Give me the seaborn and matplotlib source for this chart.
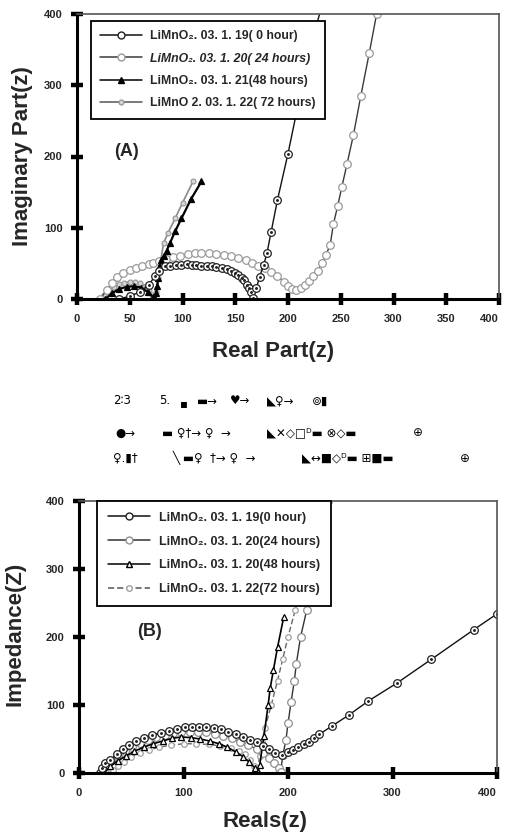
import matplotlib
matplotlib.use("Agg")
import matplotlib.pyplot as plt
import seaborn as sns
import numpy as np
from matplotlib.lines import Line2D

sns.set_theme(style="white")
NARROW = ['Liberation Sans Narrow', 'Liberation Sans', 'DejaVu Sans']
plt.rcParams['font.family'] = NARROW

# ---------------- Panel A data ----------------
a_labels = ["LiMnO\u2082. 03. 1. 19( 0 hour)",
            "LiMnO\u2082. 03. 1. 20( 24 hours)",
            "LiMnO\u2082. 03. 1. 21(48 hours)",
            "LiMnO 2. 03. 1. 22( 72 hours)"]

a0_x = [40, 50, 60, 68, 74, 78, 83, 88, 94, 99, 104, 109, 113, 118, 123, 128, 132, 137, 142, 146,
        150, 153, 156, 158, 161, 163, 165, 167, 170, 173, 177, 180, 184, 190, 200, 212, 224, 232]
a0_y = [0, 4, 10, 20, 32, 40, 46, 47, 48, 48, 49, 48, 48, 47, 46, 46, 45, 44, 42, 40,
        37, 34, 30, 27, 20, 15, 10, 2, 15, 31, 48, 64, 94, 139, 204, 290, 370, 410]

a1_x = [22, 28, 33, 38, 44, 50, 56, 62, 68, 72, 78, 84, 91, 98, 105, 112, 118, 125, 132, 139,
        146, 153, 160, 166, 172, 178, 184, 190, 196, 200, 204, 208, 212, 216, 220, 224, 228,
        232, 236, 240, 243, 247, 251, 256, 262, 269, 277, 284]
a1_y = [0, 12, 22, 31, 36, 41, 44, 47, 49, 50, 53, 56, 59, 61, 63, 64, 64, 64, 63, 62,
        60, 58, 55, 51, 47, 43, 38, 32, 24, 18, 14, 13, 15, 19, 25, 32, 40,
        50, 62, 76, 105, 130, 157, 190, 230, 285, 345, 400]

a2_x = [27, 33, 40, 47, 54, 61, 67, 72, 74, 75, 76, 77, 78, 80, 82, 85, 88, 93, 99, 108, 118]
a2_y = [0, 8, 14, 17, 18, 16, 10, 3, 0, 8, 18, 30, 45, 55, 60, 68, 78, 95, 113, 140, 165]

a3_x = [22, 26, 30, 35, 40, 45, 50, 55, 60, 65, 68, 71, 73, 75, 77, 79, 82, 86, 93, 100, 110]
a3_y = [0, 6, 12, 17, 21, 23, 24, 24, 22, 18, 12, 6, 0, 10, 30, 50, 78, 92, 113, 135, 165]

# ---------------- Panel B data ----------------
b_labels = ["LiMnO\u2082. 03. 1. 19(0 hour)",
            "LiMnO\u2082. 03. 1. 20(24 hours)",
            "LiMnO\u2082. 03. 1. 20(48 hours)",
            "LiMnO\u2082. 03. 1. 22(72 hours)"]

b0_x = [20, 22, 25, 30, 36, 42, 48, 55, 62, 70, 78, 86, 94, 101, 108, 115, 122, 129, 136, 143,
        150, 157, 164, 170, 176, 182, 188, 194, 200, 205, 210, 215, 220, 225, 230, 242, 258, 277,
        304, 337, 378, 400]
b0_y = [0, 8, 14, 19, 28, 35, 41, 47, 52, 56, 59, 62, 65, 67, 68, 68, 67, 66, 64, 61,
        57, 53, 49, 45, 40, 35, 30, 26, 31, 34, 38, 42, 46, 51, 57, 69, 85, 106,
        132, 167, 211, 234]

b1_x = [22, 26, 31, 37, 44, 51, 58, 66, 74, 82, 90, 98, 106, 114, 122, 130, 138, 146, 154, 162,
        170, 176, 182, 187, 191, 193, 195, 198, 200, 203, 206, 208, 212, 218, 224, 232, 238]
b1_y = [0, 10, 18, 25, 32, 38, 44, 49, 53, 56, 59, 60, 61, 61, 60, 58, 55, 51, 46, 41,
        35, 29, 22, 15, 8, 2, 26, 48, 73, 105, 135, 161, 200, 240, 290, 350, 400]

b2_x = [24, 30, 37, 45, 53, 62, 71, 80, 89, 98, 107, 116, 125, 134, 142, 150, 157, 163, 168,
        171, 173, 177, 181, 183, 186, 190, 196]
b2_y = [0, 10, 18, 25, 32, 38, 43, 47, 51, 53, 52, 50, 47, 43, 38, 31, 24, 16, 8,
        1, 12, 55, 100, 125, 151, 185, 230]

b3_x = [30, 33, 37, 43, 50, 58, 67, 77, 88, 100, 112, 124, 135, 145, 153, 159, 164, 167, 170,
        173, 175, 178, 184, 190, 195, 200, 207, 214, 222, 230, 234]
b3_y = [0, 5, 10, 16, 23, 29, 34, 38, 41, 43, 43, 42, 40, 37, 33, 28, 19, 10, 2,
        25, 45, 66, 100, 136, 168, 200, 240, 282, 330, 378, 400]

x_ticks_a = [0, 50, 100, 150, 200, 250, 300, 350, 400]
x_ticks_b = [0, 100, 200, 300, 400]
y_ticks = [0, 100, 200, 300, 400]

W, H = 506, 833
fig = plt.figure(figsize=(W / 100, H / 100), dpi=100)
fig.patch.set_facecolor('white')


def px_axes(l, t, r, b):
    return fig.add_axes([l / W, 1 - b / H, (r - l) / W, (b - t) / H])


axA = px_axes(77, 14, 499, 299)
axB = px_axes(79, 501, 497, 773)

tickfont = dict(family=NARROW, weight='bold', size=8)


def style_axes(ax, xt):
    ax.set_xlim(0, 400)
    ax.set_ylim(0, 400)
    ax.set_xticks(xt)
    ax.set_yticks(y_ticks)
    ax.set_xticklabels([str(v) for v in xt], fontdict=tickfont)
    ax.set_yticklabels([str(v) for v in y_ticks], fontdict=tickfont)
    ax.tick_params(direction='inout', length=9, width=3.2, color='black', pad=6,
                   bottom=True, left=True)
    # keep the right-most x label inside the figure
    ax.get_xticklabels()[-1].set_horizontalalignment('right')
    ax.get_xticklabels()[-1].set_x(ax.get_xticks()[-1])
    for s in ['left', 'bottom']:
        ax.spines[s].set_color('black')
        ax.spines[s].set_linewidth(2.2)
    for s in ['top', 'right']:
        ax.spines[s].set_color('#555555')
        ax.spines[s].set_linewidth(1.2)
    ax.set_xlabel('')
    ax.set_ylabel('')
    ax.grid(False)


def series(ax, x, y, marker, ms, mfc, mec, color, lw, ls='-', dot=False):
    sns.lineplot(x=x, y=y, ax=ax, sort=False, estimator=None, color=color, lw=lw,
                 linestyle=ls, marker=marker, markersize=ms, markerfacecolor=mfc,
                 markeredgecolor=mec, markeredgewidth=0.9, legend=False)
    if dot:
        ax.plot(x, y, linestyle='none', marker='.', markersize=2.2, color=mec)


# Panel A
series(axA, a3_x, a3_y, 'o', 3.5, '#d8d8d8', '#9a9a9a', '#8a8a8a', 1.2)
series(axA, a1_x, a1_y, 'o', 5.5, 'white', '#9a9a9a', '#3a3a3a', 1.0)
series(axA, a2_x, a2_y, '^', 5, 'black', 'black', 'black', 1.6)
series(axA, a0_x, a0_y, 'o', 5.5, 'white', '#222222', '#111111', 1.0, dot=True)

# Panel B
series(axB, b3_x, b3_y, 'o', 4, 'white', '#a0a0a0', '#666666', 1.0, ls=(0, (4, 2)))
series(axB, b1_x, b1_y, 'o', 5.5, 'white', '#909090', '#333333', 1.0)
series(axB, b2_x, b2_y, '^', 5, 'white', 'black', 'black', 1.2)
series(axB, b0_x, b0_y, 'o', 5.5, 'white', '#222222', '#111111', 1.0, dot=True)

style_axes(axA, x_ticks_a)
style_axes(axB, x_ticks_b)


def handles(specs):
    hs = []
    for (mk, ms, mfc, mec, col, ls) in specs:
        hs.append(Line2D([0], [0], marker=mk, markersize=ms, markerfacecolor=mfc,
                         markeredgecolor=mec, color=col, linestyle=ls, lw=1.1))
    return hs


specA = [('o', 5, 'white', '#222222', '#111111', '-'),
         ('o', 5, 'white', '#9a9a9a', '#3a3a3a', '-'),
         ('^', 5, 'black', 'black', 'black', '-'),
         ('o', 3.5, '#d8d8d8', '#9a9a9a', '#555555', '-')]
specB = [('o', 5, 'white', '#222222', '#111111', '-'),
         ('o', 5, 'white', '#909090', '#333333', '-'),
         ('^', 5, 'white', 'black', 'black', '-'),
         ('o', 4, 'white', '#a0a0a0', '#555555', (0, (4, 2)))]

legA = axA.legend(handles(specA), a_labels, loc='upper left',
                  bbox_to_anchor=((91 - 77) / 422, (299 - 21) / 285), borderaxespad=0,
                  frameon=True, fancybox=False, framealpha=1, edgecolor='black',
                  prop=dict(family=NARROW, weight='bold', size=8.8), handlelength=3.4,
                  labelspacing=0.85, borderpad=0.75, handletextpad=0.7)
legA.get_frame().set_linewidth(1.3)
legA.get_texts()[1].set_style('italic')

legB = axB.legend(handles(specB), b_labels, loc='upper left',
                  bbox_to_anchor=((97 - 79) / 418, 1.0), borderaxespad=0,
                  frameon=True, fancybox=False, framealpha=1, edgecolor='black',
                  prop=dict(family=NARROW, weight='bold', size=9), handlelength=3.4,
                  labelspacing=0.95, borderpad=0.85, handletextpad=0.7)
legB.get_frame().set_linewidth(1.3)

# Panel tags
fig.text(127 / W, 1 - 152 / H, '(A)', ha='center', va='center', family=NARROW,
         weight='bold', size=13)
fig.text(150 / W, 1 - 632 / H, '(B)', ha='center', va='center', family=NARROW,
         weight='bold', size=13)

# Axis labels
fig.text(23 / W, 1 - 156 / H, 'Imaginary Part(z)', rotation=90, ha='center', va='center',
         family=NARROW, weight='bold', size=16)
fig.text(273 / W, 1 - 352 / H, 'Real Part(z)', ha='center', va='center',
         family=NARROW, weight='bold', size=16)
fig.text(15 / W, 1 - 634 / H, 'Impedance(Z)', rotation=90, ha='center', va='center',
         family=NARROW, weight='bold', size=16)
fig.text(265 / W, 1 - 822 / H, 'Reals(z)', ha='center', va='center',
         family=NARROW, weight='bold', size=16)

# Garbled scan text between the panels
SYM = ['DejaVu Sans']
garble = [
    (113, 401, '2\u22363'), (159, 401, '5.'), (180, 404, '\u25aa'), (197, 401, '\u25ac\u2192'),
    (230, 401, '\u2665\u2192'), (267, 401, '\u25e3\u2640\u2192'), (312, 401, '\u229a\u25ae'),
    (115, 433, '\u25cf\u2192'), (162, 433, '\u25ac \u2640\u2020\u2192 \u2640  \u2192'),
    (267, 433, '\u25e3\u2715\u25c7\u25a1\u1d30\u25ac \u2297\u25c7\u25ac'), (413, 433, '\u2295'),
    (113, 458, '\u2640.\u25ae\u2020'), (173, 458, '\u2572 \u25ac\u2640  \u2020\u2192 \u2640  \u2192'),
    (302, 458, '\u25e3\u2194\u25a0\u25c7\u1d30\u25ac \u229e\u25a0\u25ac'), (460, 458, '\u2295'),
]
for x, y, s in garble:
    fig.text(x / W, 1 - y / H, s, ha='left', va='center', family=SYM, size=8.5,
             color='black')

fig.savefig('out.png', dpi=100, facecolor='white')
